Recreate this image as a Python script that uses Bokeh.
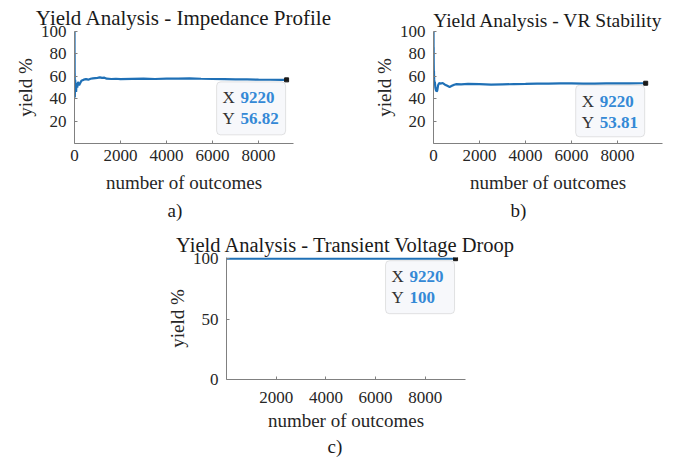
from bokeh.plotting import figure
from bokeh.models import Range1d, FixedTicker, BoxAnnotation, Label, Title
from bokeh.layouts import column, row
from bokeh.embed import file_html
from bokeh.resources import INLINE

FONT = "Liberation Serif"

# ---------------- data ----------------
titles = ["Yield Analysis - Impedance Profile",
          "Yield Analysis - VR Stability",
          "Yield Analysis - Transient Voltage Droop"]
captions = ["a)", "b)", "c)"]
x_label = "number of outcomes"
y_label = "yield %"

a_x = [1, 2, 3, 4, 5, 6, 7, 8, 10, 12, 14, 17, 20, 25, 30, 35, 40, 50, 60, 70, 80,
       100, 120, 150, 200, 250, 300, 350, 400, 500, 600, 700, 800, 1000, 1100, 1200,
       1300, 1400, 1600, 1800, 2000, 2500, 3000, 3500, 4000, 4500, 5000, 5500, 6000,
       6500, 7000, 7500, 8000, 8500, 9000, 9220]
a_y = [100, 50, 67, 75, 80, 67, 57, 63, 60, 50, 41, 47, 55, 52, 57, 51, 48, 54, 50, 46, 51,
       53, 50, 55, 52, 54, 56, 56.5, 57, 57.5, 57, 57.8, 58.2, 58.6, 59, 58.6,
       58.8, 57.9, 57.6, 57.8, 57.5, 57.7, 57.9, 57.6, 57.9, 58, 58.1, 57.8, 57.6,
       57.5, 57.3, 57.2, 57.0, 56.9, 56.85, 56.82]

b_x = [1, 2, 3, 4, 5, 6, 7, 8, 10, 12, 15, 20, 25, 30, 40, 50, 60, 80, 100, 130, 160,
       200, 250, 300, 400, 500, 600, 700, 800, 900, 1000, 1200, 1500, 2000, 2500, 3000,
       3500, 4000, 4500, 5000, 5500, 6000, 6500, 7000, 7500, 8000, 8500, 9000, 9220]
b_y = [100, 100, 67, 75, 80, 83, 86, 75, 70, 67, 60, 65, 60, 57, 55, 52, 55, 50, 48, 46.5, 47,
       52, 54, 53.5, 54, 52.5, 51.5, 50.5, 51.5, 52.5, 53, 52.8, 53.2, 53, 52.6, 52.8,
       53, 53.2, 53.5, 53.4, 53.6, 53.6, 53.4, 53.5, 53.6, 53.7, 53.7, 53.8, 53.81]

c_x = [1, 9220]
c_y = [100, 100]

tip_x = [9220, 9220, 9220]
tip_y = [56.82, 53.81, 100]

x_ticks_ab = [0, 2000, 4000, 6000, 8000]
x_ticks_c = [2000, 4000, 6000, 8000]
y_ticks_ab = [20, 40, 60, 80, 100]
y_ticks_c = [0, 50, 100]

LINE = "#1f70b6"
AXIS = "#808080"
TXT = "#262626"
TIPBLUE = "#3489d6"


def panel(xs, ys, title, caption, tx, ty, xend, yend, xticks, yticks,
          width, height, bl, br, bt, bb, title_size, title_standoff,
          cap_offset, cap_standoff, tick_standoff, label_standoff):
    p = figure(width=width, height=height, output_backend="svg", toolbar_location=None,
               x_range=Range1d(0, xend), y_range=Range1d(0, yend),
               min_border_left=bl, min_border_right=br, min_border_top=bt,
               min_border_bottom=bb)
    p.outline_line_color = None
    p.grid.visible = False
    p.background_fill_color = "white"
    p.border_fill_color = "white"

    p.title.text = title
    p.title.align = "center"
    p.title.text_font = FONT
    p.title.text_font_size = title_size
    p.title.text_font_style = "normal"
    p.title.text_color = "#1a1a1a"
    p.title.standoff = title_standoff

    for ax in (p.xaxis[0], p.yaxis[0]):
        ax.axis_line_color = AXIS
        ax.major_tick_line_color = AXIS
        ax.major_tick_in = 3
        ax.major_tick_out = 0
        ax.minor_tick_line_color = None
        ax.major_label_text_font = FONT
        ax.major_label_text_font_size = "17px"
        ax.major_label_text_color = TXT
        ax.axis_label_text_font = FONT
        ax.axis_label_text_font_size = "19px"
        ax.axis_label_text_font_style = "normal"
        ax.axis_label_text_color = TXT
    p.xaxis[0].ticker = FixedTicker(ticks=xticks)
    p.yaxis[0].ticker = FixedTicker(ticks=yticks)
    p.xaxis[0].axis_label = x_label
    p.yaxis[0].axis_label = y_label
    p.xaxis[0].major_label_standoff = tick_standoff
    p.xaxis[0].axis_label_standoff = label_standoff
    p.yaxis[0].major_label_standoff = 8
    p.yaxis[0].axis_label_standoff = 2

    p.add_layout(Title(text=caption, align="left", offset=cap_offset, text_font=FONT,
                       text_font_size="19px", text_font_style="normal",
                       text_color="#1a1a1a", standoff=cap_standoff), "below")

    p.line(xs, ys, line_color=LINE, line_width=2.2)

    # data tip
    fw = width - bl - br
    fh = height - bt - bb
    dxp = xend / fw
    dyp = yend / fh
    box = BoxAnnotation(left=tx - 70 * dxp, right=tx - 1 * dxp,
                        top=ty - 2 * dyp, bottom=ty - 55 * dyp,
                        fill_color="#f7f8fb", fill_alpha=1.0,
                        line_color="#a6a6a6", line_width=1, border_radius=4)
    p.add_layout(box)
    p.scatter([tx], [ty], marker="square", size=4, color="#1a1a1a")
    for lab, val, off in (("X", f"{tx:g}", -18), ("Y", f"{ty:g}", -39)):
        p.add_layout(Label(x=tx, y=ty, x_offset=-64, y_offset=off, text=lab,
                           text_font=FONT, text_font_size="17px", text_color="#333333",
                           text_baseline="middle", text_align="left"))
        p.add_layout(Label(x=tx, y=ty, x_offset=-46, y_offset=off, text=val,
                           text_font=FONT, text_font_size="17px", text_color=TIPBLUE,
                           text_font_style="bold",
                           text_baseline="middle", text_align="left"))
    return p


pa = panel(a_x, a_y, titles[0], captions[0], tip_x[0], tip_y[0], 9520, 100,
           x_ticks_ab, y_ticks_ab, 344, 226, 74, 51, 31, 83,
           "21px", 3, 93, 4, 6, 8)
pb = panel(b_x, b_y, titles[1], captions[1], tip_x[1], tip_y[1], 9950, 100,
           x_ticks_ab, y_ticks_ab, 344, 226, 89, 26, 28, 83,
           "19.5px", 1, 77, 4, 6, 8)
pc = panel(c_x, c_y, titles[2], captions[2], tip_x[2], tip_y[2], 9620, 101,
           x_ticks_c, y_ticks_c, 688, 240, 226, 223, 31, 87,
           "20.5px", 3, 101, 0, 12, 4)

layout = column(row(pa, pb), pc)
open("out.html", "w").write(file_html(layout, INLINE))
